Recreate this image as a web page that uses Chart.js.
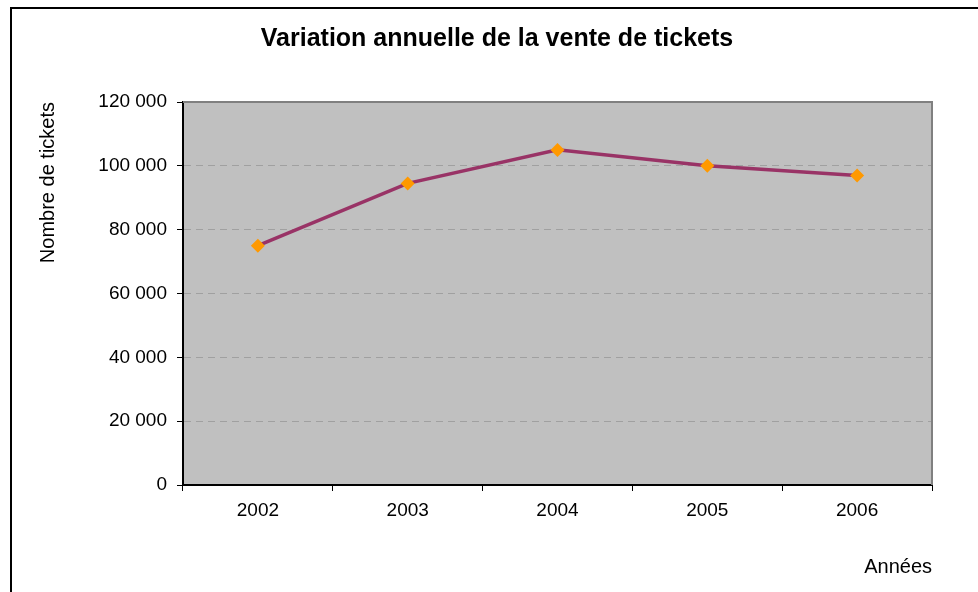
<!DOCTYPE html>
<html>
<head>
<meta charset="utf-8">
<script src="https://cdn.jsdelivr.net/npm/chart.js@4"></script>
<style>
  body { margin: 0; background: #fff; overflow: hidden; }
  #frame { position: absolute; left: 10px; top: 7px; width: 1000px; height: 620px; border: 2px solid #000; }
  #wrap { position: absolute; left: 0; top: 0; width: 978px; height: 592px; }
</style>
</head>
<body>
<div id="frame"></div>
<div id="wrap"><canvas id="myChart"></canvas></div>
<script>
const years = ['2002', '2003', '2004', '2005', '2006'];
const tickets = [75000, 94500, 105000, 100000, 97000];

const fontFamily = "'Liberation Sans', Arial, sans-serif";

function spaced(v) {
    return String(v).replace(/\B(?=(\d{3})+(?!\d))/g, ' ');
}

// grey plot area with a grey frame on top and right
const plotArea = {
    id: 'plotArea',
    beforeDraw(chart) {
        const {ctx, chartArea: a} = chart;
        ctx.save();
        ctx.fillStyle = '#C0C0C0';
        ctx.fillRect(a.left, a.top, a.right - a.left, a.bottom - a.top);
        ctx.restore();
    },
    beforeDatasetsDraw(chart) {
        const {ctx, chartArea: a} = chart;
        ctx.save();
        ctx.strokeStyle = '#808080';
        ctx.lineWidth = 2;
        ctx.beginPath();
        ctx.moveTo(a.left, a.top);
        ctx.lineTo(a.right, a.top);
        ctx.lineTo(a.right, a.bottom);
        ctx.stroke();
        ctx.restore();
    }
};

const data = {
    labels: years,
    datasets: [{
        data: tickets,
        borderColor: '#993366',
        borderWidth: 3.5,
        tension: 0,
        pointStyle: 'rectRot',
        pointRadius: 7,
        pointHoverRadius: 7,
        pointBackgroundColor: '#FF9900',
        pointBorderColor: '#FF9900',
        pointBorderWidth: 0
    }]
};

const config = {
    type: 'line',
    data: data,
    options: {
        responsive: true,
        maintainAspectRatio: false,
        animation: false,
        layout: {
            // left/right padding keeps the title centred over the whole frame
            padding: {left: 62, right: 46, top: 0, bottom: 0}
        },
        plugins: {
            legend: {display: false},
            tooltip: {enabled: false},
            title: {
                display: true,
                text: 'Variation annuelle de la vente de tickets',
                color: '#000',
                font: {family: fontFamily, size: 25, weight: 'bold', lineHeight: 1.2},
                padding: {top: 24, bottom: 48}
            }
        },
        scales: {
            x: {
                offset: true,
                afterFit(scale) { scale.height = 107; },
                grid: {
                    offset: true,
                    drawOnChartArea: false,
                    tickLength: 6,
                    tickColor: '#000'
                },
                border: {color: '#000', width: 2},
                ticks: {
                    color: '#000',
                    padding: 8,
                    font: {family: fontFamily, size: 19}
                },
                title: {
                    display: true,
                    text: 'Années',
                    align: 'end',
                    color: '#000',
                    font: {family: fontFamily, size: 20},
                    padding: {top: 0, bottom: 13}
                }
            },
            y: {
                min: 0,
                max: 120000,
                afterFit(scale) { scale.width = 121; },
                grid: {
                    color: ctx => (ctx.tick && (ctx.tick.value === 0 || ctx.tick.value === 120000)) ? 'transparent' : '#A0A0A0',
                    lineWidth: 1,
                    tickLength: 6,
                    tickColor: '#000',
                    tickBorderDash: []
                },
                border: {color: '#000', width: 2, dash: [7, 5]},
                ticks: {
                    stepSize: 20000,
                    color: '#000',
                    padding: 10,
                    font: {family: fontFamily, size: 19},
                    callback: v => spaced(v)
                },
                title: {
                    display: true,
                    text: 'Nombre de tickets',
                    align: 'end',
                    color: '#000',
                    font: {family: fontFamily, size: 20},
                    padding: {top: -26, bottom: 0}
                }
            }
        }
    },
    plugins: [plotArea]
};

const myChart = new Chart(
    document.getElementById('myChart'),
    config
);
</script>
</body>
</html>
